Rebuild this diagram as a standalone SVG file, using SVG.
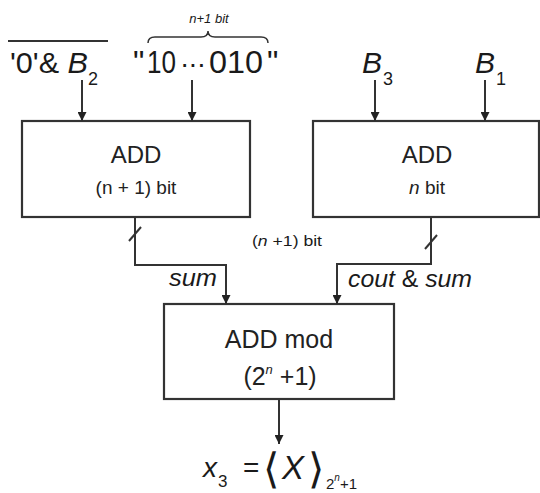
<svg xmlns="http://www.w3.org/2000/svg" width="540" height="493" viewBox="0 0 540 493">
<style>
  .box{fill:#fff;stroke:#333;stroke-width:2.2}
  .wire{fill:none;stroke:#333;stroke-width:2}
  .t{font-family:"Liberation Sans",Arial,sans-serif;fill:#1a1a1a}
  .i{font-style:italic}
  .bx{font-family:"Liberation Sans",Arial,sans-serif;fill:#222;text-anchor:middle}
  .br{font-family:"DejaVu Sans",sans-serif;font-weight:200;fill:#1a1a1a}
</style>
<defs>
  <marker id="ah" viewBox="0 0 10 10" refX="10" refY="5" markerWidth="4.5" markerHeight="4.5" orient="auto" markerUnits="strokeWidth">
    <path d="M0,0 L10,5 L0,10 z" fill="#222"/>
  </marker>
</defs>
<rect width="540" height="493" fill="#fff"/>

<g id="in-b2">
  <text class="t" x="10" y="73" font-size="30" textLength="78" lengthAdjust="spacingAndGlyphs">'0'&amp; <tspan class="i">B</tspan></text>
  <text class="t" x="88" y="85" font-size="18">2</text>
  <line x1="8" y1="41" x2="108" y2="41" stroke="#333" stroke-width="2"/>
</g>
<g id="in-const">
  <text class="t" x="133" y="73" font-size="32">"</text>
  <text class="t" x="147" y="73" font-size="32" textLength="29" lengthAdjust="spacingAndGlyphs">10</text>
  <text class="t" x="180" y="73" font-size="28" textLength="26" lengthAdjust="spacing">···</text>
  <text class="t" x="209" y="73" font-size="32" textLength="54" lengthAdjust="spacingAndGlyphs">010</text>
  <text class="t" x="267" y="73" font-size="32">"</text>
  <path d="M148,43 Q148,37 155,37 L201,37 Q208,37 208,31 Q208,37 215,37 L261,37 Q268,37 268,43" fill="none" stroke="#333" stroke-width="1.5"/>
  <text class="t i" x="209" y="23" font-size="13" text-anchor="middle">n+1 bit</text>
</g>
<g id="in-b3">
  <text class="t i" x="362" y="73" font-size="30">B</text>
  <text class="t" x="383" y="85" font-size="18">3</text>
</g>
<g id="in-b1">
  <text class="t i" x="475" y="73" font-size="30">B</text>
  <text class="t" x="496" y="85" font-size="18">1</text>
</g>

<g id="add-left">
  <rect class="box" x="22" y="121" width="228" height="96"/>
  <text class="bx" x="136" y="163" font-size="24">ADD</text>
  <text class="bx" x="136" y="194" font-size="19">(n + 1) bit</text>
</g>
<g id="add-right">
  <rect class="box" x="313" y="121" width="226" height="96"/>
  <text class="bx" x="427" y="163" font-size="24">ADD</text>
  <text class="bx" x="427" y="194" font-size="19"><tspan font-style="italic">n</tspan> bit</text>
</g>
<g id="add-mod">
  <rect class="box" x="164" y="304" width="230" height="95"/>
  <text class="bx" x="279" y="348" font-size="25">ADD mod</text>
  <text class="bx" x="280" y="385" font-size="25">(2<tspan font-size="13" dy="-11" font-style="italic">n</tspan><tspan dy="11"> +1)</tspan></text>
</g>

<g id="connectors">
  <line class="wire" x1="82" y1="80" x2="82" y2="121" marker-end="url(#ah)"/>
  <line class="wire" x1="192" y1="80" x2="192" y2="121" marker-end="url(#ah)"/>
  <line class="wire" x1="375" y1="80" x2="375" y2="121" marker-end="url(#ah)"/>
  <line class="wire" x1="485" y1="80" x2="485" y2="121" marker-end="url(#ah)"/>
  <path class="wire" d="M135,217 V265 H226 V304" marker-end="url(#ah)"/>
  <path class="wire" d="M431,217 V264 H337 V304" marker-end="url(#ah)"/>
  <line class="wire" x1="129" y1="241" x2="141" y2="227" stroke-width="1.6"/>
  <line class="wire" x1="425" y1="249" x2="437" y2="235" stroke-width="1.6"/>
  <line class="wire" x1="279" y1="399" x2="279" y2="444" marker-end="url(#ah)"/>
</g>

<g id="labels">
  <text class="t i" x="169" y="286" font-size="24" textLength="48" lengthAdjust="spacingAndGlyphs">sum</text>
  <text class="t" x="348" y="287" font-size="24" textLength="124" lengthAdjust="spacingAndGlyphs"><tspan class="i">cout</tspan> &amp; <tspan class="i">sum</tspan></text>
  <text class="t" x="252" y="246" font-size="14" textLength="70" lengthAdjust="spacingAndGlyphs">(<tspan class="i">n</tspan> +1) bit</text>
</g>

<g id="result">
  <text class="t i" x="203" y="477" font-size="28">x</text>
  <text class="t" x="218" y="487" font-size="17">3</text>
  <text class="t" x="243" y="477" font-size="28">=</text>
  <text class="br" x="263" y="483" font-size="42">⟨</text>
  <text class="t i" x="282" y="479" font-size="33">X</text>
  <text class="br" x="308" y="483" font-size="42">⟩</text>
  <text class="t" x="326" y="489" font-size="15">2<tspan font-size="10" dy="-8" font-style="italic">n</tspan><tspan dy="8">+1</tspan></text>
</g>
</svg>
